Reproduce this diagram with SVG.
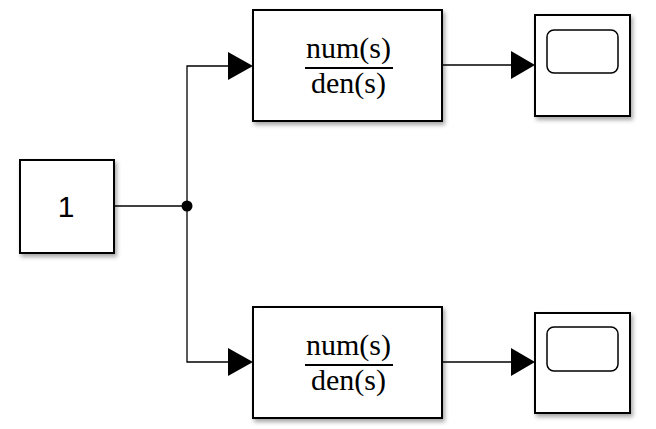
<svg xmlns="http://www.w3.org/2000/svg" width="656" height="429" viewBox="0 0 656 429">
<style>
.blk{fill:#fff;stroke:#000;stroke-width:2;filter:url(#sh)}
.wire{fill:none;stroke:#000;stroke-width:1.3}
.frac{font-family:"Liberation Serif","Times New Roman",serif;font-size:30px;fill:#000;text-anchor:middle}
.num{font-family:"Liberation Sans",Arial,Helvetica,sans-serif;font-size:30px;fill:#000;text-anchor:middle}
.scr{fill:#fff;stroke:#000;stroke-width:1.5}
</style>
<defs>
<filter id="sh" x="-10%" y="-10%" width="125%" height="125%">
<feDropShadow dx="2" dy="3" stdDeviation="2" flood-color="#000" flood-opacity="0.35"/>
</filter>
</defs>
<g id="connectors">
<path class="wire" d="M114,206 H187"/>
<path class="wire" d="M187,206 V66 H228" />
<path class="wire" d="M187,206 V362 H228" />
<path d="M228,52 L253,66 L228,80 Z" fill="#000"/>
<path d="M228,348 L253,362 L228,376 Z" fill="#000"/>
<path class="wire" d="M442,65 H511"/>
<path d="M511,51 L535,65 L511,79 Z" fill="#000"/>
<path class="wire" d="M442,362 H511"/>
<path d="M511,348 L535,362 L511,376 Z" fill="#000"/>
<circle cx="187" cy="206" r="5.5" fill="#000"/>
</g>
<g id="constant">
<rect class="blk" x="20" y="160" width="94" height="93"/>
<text class="num" x="66" y="217">1</text>
</g>
<g id="tf1">
<rect class="blk" x="253" y="10" width="189" height="111"/>
<text class="frac" x="348.5" y="58">num(s)</text>
<line x1="305" y1="68" x2="393" y2="68" stroke="#000" stroke-width="2"/>
<text class="frac" x="348.5" y="93">den(s)</text>
</g>
<g id="tf2">
<rect class="blk" x="253" y="307" width="189" height="111"/>
<text class="frac" x="348.5" y="355">num(s)</text>
<line x1="305" y1="365" x2="393" y2="365" stroke="#000" stroke-width="2"/>
<text class="frac" x="348.5" y="390">den(s)</text>
</g>
<g id="scope1">
<rect class="blk" x="535" y="15" width="95" height="101"/>
<rect class="scr" x="547" y="30" width="71" height="43" rx="7"/>
</g>
<g id="scope2">
<rect class="blk" x="535" y="313" width="95" height="100"/>
<rect class="scr" x="547" y="327" width="71" height="44" rx="7"/>
</g>
</svg>
